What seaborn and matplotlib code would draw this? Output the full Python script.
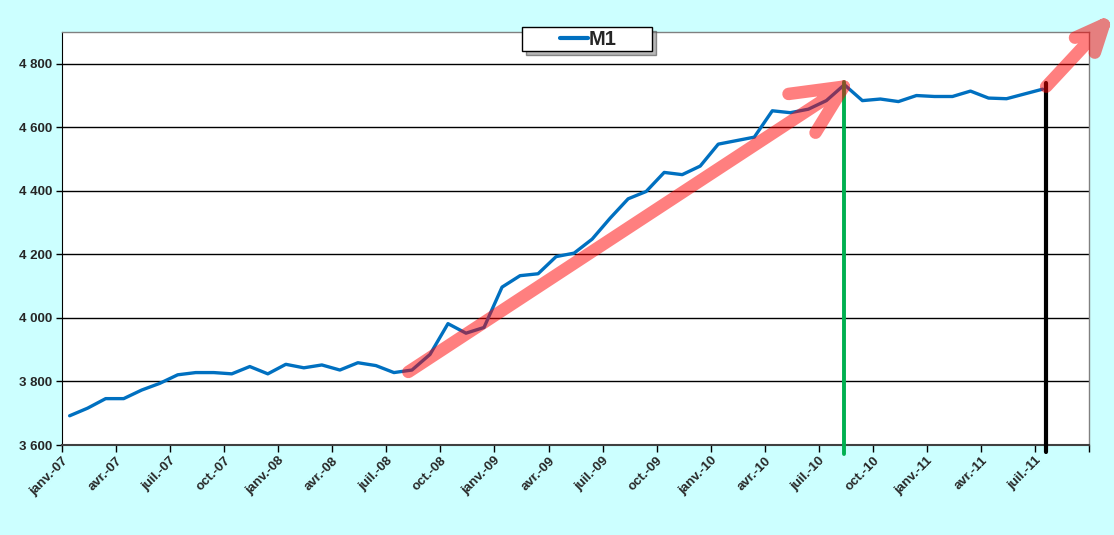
import numpy as np
import pandas as pd
import matplotlib
matplotlib.use('Agg')
import matplotlib.pyplot as plt
import matplotlib.ticker as mticker
from matplotlib.patches import Rectangle, Shadow
import seaborn as sns

# Masse monetaire M1, mensuel de janv.-07 a juil.-11
m1 = [3692, 3716, 3746, 3746, 3773, 3794, 3821, 3828, 3828, 3824, 3847, 3824,
      3854, 3843, 3852, 3836, 3859, 3850, 3828, 3836, 3885, 3982, 3952, 3970,
      4097, 4133, 4139, 4193, 4204, 4248, 4314, 4375, 4398, 4458, 4451, 4478,
      4547, 4558, 4569, 4652, 4646, 4657, 4684, 4734, 4684, 4689, 4681, 4700,
      4697, 4697, 4714, 4692, 4690, 4705, 4720]
mois = ['janv.', 'avr.', 'juil.', 'oct.']
annees = ['07', '08', '09', '10', '11']
etiquettes = [f'{m}-{a}' for a in annees for m in mois][:19]
serie = 'M1'

df = pd.DataFrame({'mois': np.arange(len(m1)), 'valeur': m1, 'serie': serie})

sns.set_style('white')
plt.rcParams['font.family'] = ['Liberation Sans', 'DejaVu Sans']

fig = plt.figure(figsize=(11.14, 5.35), dpi=100, facecolor='#CCFFFF')
ax = fig.add_axes([0.0557, 0.1682, 0.9219, 0.772])
ax.set_facecolor('white')

sns.lineplot(data=df, x='mois', y='valeur', hue='serie', palette=['#0070C0'],
             linewidth=2.4, ax=ax, zorder=3)

# axes
decal = -0.42
ax.set_xlim(decal, len(m1) + 1.65 + decal)
ax.set_ylim(3600, 4900)
ax.set_xticks([decal + 3 * k for k in range(len(etiquettes) + 1)])
ax.set_xticklabels(etiquettes + [''], rotation=45, ha='right', rotation_mode='anchor',
                   fontsize=9.5, fontweight='bold')
ax.set_yticks(np.arange(3600, 4801, 200))
ax.yaxis.set_major_formatter(mticker.FuncFormatter(lambda v, p: f'{v:,.0f}'.replace(',', ' ')))
for lab in ax.get_yticklabels():
    lab.set_fontweight('bold')
    lab.set_fontsize(9.5)
ax.tick_params(axis='x', length=5, width=1, color='black', direction='out', bottom=True, pad=2)
ax.tick_params(axis='y', length=4, width=1, color='black', direction='out', left=True, pad=3)
ax.grid(axis='y', color='black', linewidth=1)
ax.set_xlabel('')
ax.set_ylabel('')
for cote in ['top', 'right']:
    ax.spines[cote].set_color('#808080')
    ax.spines[cote].set_linewidth(1)
ax.spines['left'].set_color('black')
ax.spines['bottom'].set_color('#404040')
ax.spines['bottom'].set_linewidth(1.5)

# reperes verticaux
pic = int(np.argmax(m1))
dernier = len(m1) - 1
ax.plot([pic, pic], [3572, 4743], color='#00B050', linewidth=2.8, clip_on=False, zorder=5)
ax.plot([dernier + 0.2, dernier + 0.2], [3578, 4740], color='black', linewidth=3, clip_on=False, zorder=5)

# fleches de tendance
fleche1 = [(18.8, 3830), (pic - 0.03, 4728), (np.nan, np.nan),
           (39.9, 4705), (pic - 0.03, 4728), (41.4, 4583)]
fleche2 = [(dernier + 0.2, 4728), (57.4, 4923), (np.nan, np.nan),
           (55.8, 4882), (57.4, 4923), (56.9, 4835)]
for fl in [fleche1, fleche2]:
    xs, ys = zip(*fl)
    ax.plot(xs, ys, color='red', alpha=0.5, linewidth=9, solid_capstyle='round',
            solid_joinstyle='round', clip_on=False, zorder=6)

# cadre de legende avec ombre
cadre = Rectangle((0.4686, 0.9047), 0.1167, 0.0449, transform=fig.transFigure,
                  facecolor='white', edgecolor='black', linewidth=1, zorder=9)
ombre = Shadow(cadre, 3 / 1114, -3 / 535, facecolor='#8a8a8a', alpha=0.6, zorder=8.5)
fig.patches.extend([ombre, cadre])

poignees, noms = ax.get_legend_handles_labels()
ax.get_legend().remove()
leg = fig.legend(poignees, noms, loc='center', bbox_to_anchor=(0.528, 0.927),
                 frameon=False, prop={'weight': 'bold', 'size': 14.5}, handlelength=1.4,
                 handletextpad=0.05, borderpad=0, borderaxespad=0)
leg.set_zorder(10)
for h in leg.get_lines():
    h.set_linewidth(3)

fig.savefig('out.png', dpi=100, facecolor=fig.get_facecolor())
